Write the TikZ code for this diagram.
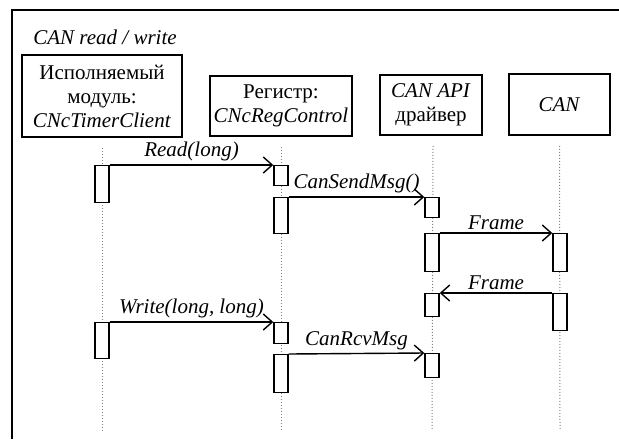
\documentclass[tikz,border=0pt]{standalone}
\usepackage{fontspec}
\setmainfont{Liberation Serif}
\usetikzlibrary{arrows.meta}

\begin{document}
\begin{tikzpicture}[x=0.5pt, y=-0.5pt,
    obj/.style={rectangle, draw, line width=0.8pt, align=center, inner sep=1pt, font=\fontsize{10.5}{12}\selectfont},
    act/.style={rectangle, draw, fill=white, line width=0.7pt, minimum width=7pt, inner sep=0pt, anchor=north},
    life/.style={densely dotted, gray, line width=0.5pt},
    msg/.style={-{Straight Barb[length=4.5pt, width=8pt]}, line width=0.7pt},
    lbl/.style={above, inner sep=1.5pt, font=\fontsize{10.5}{12}\selectfont\itshape}]

    \useasboundingbox (0,0) rectangle (619,439);
    \draw[line width=0.8pt] (12,439) -- (12,10) -- (619,10);
    \node[anchor=west, inner sep=0pt, font=\fontsize{10.5}{12}\selectfont\itshape] (title) at (33,37) {CAN read / write};

    \node[obj, minimum width=80pt, minimum height=41pt] (mod) at (102,96) {Исполняемый\\модуль:\\\textit{CNcTimerClient}};
    \node[obj, minimum width=71pt, minimum height=30pt] (reg) at (281,106) {Регистр:\\\textit{CNcRegControl}};
    \node[obj, minimum width=51pt, minimum height=30pt] (api) at (431,105) {\textit{CAN API}\\драйвер};
    \node[obj, minimum width=50.5pt, minimum height=30.5pt] (can) at (559.5,104.5) {\textit{CAN}};

    \coordinate (mod end) at (102,430);
    \coordinate (reg end) at (281,430);
    \coordinate (api end) at (432,430);
    \coordinate (can end) at (560,430);
    \draw[life] ([yshift=-5pt]mod.south) -- (mod end);
    \draw[life] ([yshift=-5pt]reg.south) -- (reg end);
    \draw[life] ([yshift=-5pt,xshift=1pt]api.south) -- (api end);
    \draw[life] ([yshift=-5pt]can.south) -- (can end);

    \node[act, minimum height=18.5pt] (a1) at (102,165) {};
    \node[act, minimum height=18pt] (a2) at (102,322) {};
    \node[act, minimum height=10pt] (b1) at (281,165) {};
    \node[act, minimum height=18pt] (b2) at (281,197) {};
    \node[act, minimum height=10.5pt] (b3) at (281,322) {};
    \node[act, minimum height=19pt] (b4) at (281,354) {};
    \node[act, minimum height=10pt] (c1) at (432,197) {};
    \node[act, minimum height=19pt] (c2) at (432,233) {};
    \node[act, minimum height=11.5pt] (c3) at (432,293) {};
    \node[act, minimum height=12pt] (c4) at (432,353) {};
    \node[act, minimum height=19pt] (d1) at (560,233) {};
    \node[act, minimum height=18.5pt] (d2) at (560,293) {};

    \draw[msg] (a1.north east) -- node[lbl] {Read(long)} (b1.north west);
    \draw[msg] (b2.north east) -- node[lbl] {CanSendMsg()} (c1.north west);
    \draw[msg] (c2.north east) -- node[lbl] {Frame} (d1.north west);
    \draw[msg] (d2.north west) -- node[lbl] {Frame} (c3.north east);
    \draw[msg] (a2.north east) -- node[lbl] {Write(long, long)} (b3.north west);
    \draw[msg] (b4.north east) -- node[lbl] {CanRcvMsg} (c4.north west);
\end{tikzpicture}
\end{document}
